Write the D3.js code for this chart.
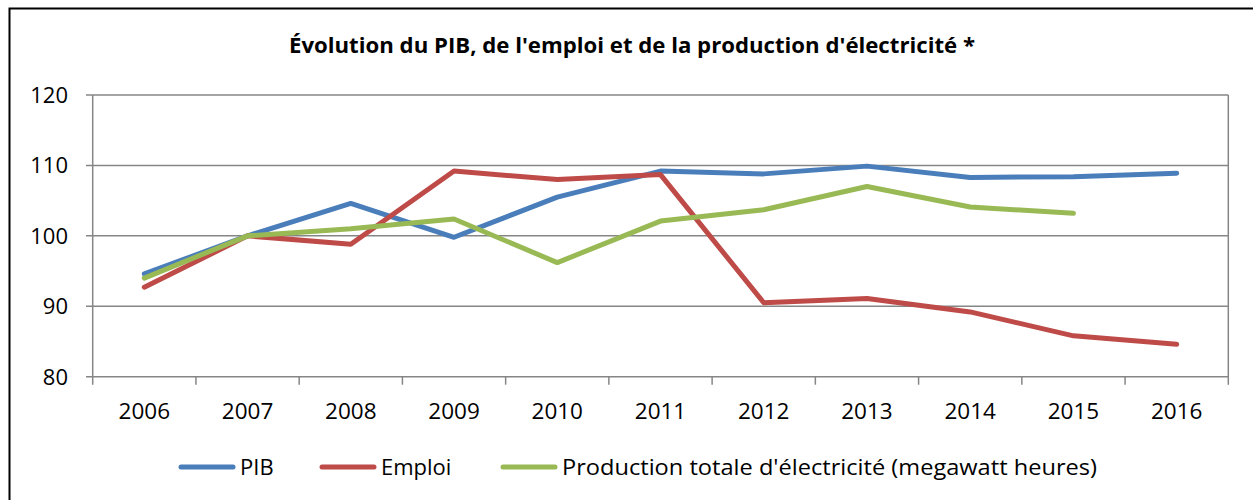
<!DOCTYPE html>
<html>
<head>
<meta charset="utf-8">
<script src="https://cdn.jsdelivr.net/npm/d3@7"></script>
<style>
  body { margin: 0; background: #fff; }
  text { font-family: "Open Sans", sans-serif; fill: #000; }
</style>
</head>
<body>
<script>
// données
const years = ["2006","2007","2008","2009","2010","2011","2012","2013","2014","2015","2016"];
const pib = [94.6, 100, 104.6, 99.8, 105.5, 109.2, 108.8, 109.9, 108.3, 108.4, 108.9];
const emploi = [92.7, 100, 98.8, 109.2, 108.0, 108.7, 90.5, 91.1, 89.2, 85.8, 84.6];
const electricite = [94.0, 100, 101.0, 102.4, 96.2, 102.1, 103.7, 107.0, 104.1, 103.2, null];
const yTicks = [80, 90, 100, 110, 120];
const seriesNames = ["PIB", "Emploi", "Production totale d'électricité (megawatt heures)"];
const colors = ["#4A7EBB", "#BE4B48", "#98B954"];

const WIDTH = 1253
const HEIGHT = 500
const gridColor = "#868686"

const svg = d3.select("body").append("svg")
  .attr("width", WIDTH)
  .attr("height", HEIGHT)

// cadre
svg.append("rect")
  .attr("x", 9.5).attr("y", 8.5)
  .attr("width", 1300).attr("height", 600)
  .attr("fill", "none").attr("stroke", "#000").attr("stroke-width", 2)

// titre
svg.append("text")
  .attr("x", 632).attr("y", 53)
  .attr("text-anchor", "middle")
  .attr("font-weight", "bold")
  .attr("font-size", 20.5)
  .attr("textLength", 686)
  .attr("lengthAdjust", "spacingAndGlyphs")
  .text("Évolution du PIB, de l'emploi et de la production d'électricité *")

const x = d3.scaleBand().domain(years).range([92.7, 1228.3])
const y = d3.scaleLinear().domain([80, 120]).range([376.7, 95])

// grille horizontale
svg.append("g")
  .selectAll("line")
  .data(yTicks)
  .enter()
  .append("line")
  .attr("x1", 86)
  .attr("x2", 1228.3)
  .attr("y1", d => y(d))
  .attr("y2", d => y(d))
  .attr("stroke", gridColor)
  .attr("stroke-width", 1.5)

// bord droit
svg.append("line")
  .attr("x1", 1228.3).attr("x2", 1228.3)
  .attr("y1", y(120)).attr("y2", y(80) + 8)
  .attr("stroke", gridColor).attr("stroke-width", 1.5)

// axe gauche
svg.append("line")
  .attr("x1", 92.7).attr("x2", 92.7)
  .attr("y1", y(120)).attr("y2", y(80) + 8)
  .attr("stroke", gridColor).attr("stroke-width", 1.5)

// graduations de l'axe x (entre les catégories)
svg.append("g")
  .selectAll("line")
  .data(years.slice(1))
  .enter()
  .append("line")
  .attr("x1", d => x(d))
  .attr("x2", d => x(d))
  .attr("y1", y(80))
  .attr("y2", y(80) + 8)
  .attr("stroke", gridColor)
  .attr("stroke-width", 1.5)

// étiquettes y
svg.append("g")
  .selectAll("text")
  .data(yTicks)
  .enter()
  .append("text")
  .attr("x", 68)
  .attr("y", d => y(d))
  .attr("dy", "0.36em")
  .attr("text-anchor", "end")
  .attr("font-size", 22)
  .text(d => d)

// étiquettes x
svg.append("g")
  .selectAll("text")
  .data(years)
  .enter()
  .append("text")
  .attr("x", d => x(d) + x.bandwidth() / 2)
  .attr("y", 419)
  .attr("text-anchor", "middle")
  .attr("font-size", 22.5)
  .text(d => d)

// courbes
const line = d3.line()
  .defined(d => d.v != null)
  .x(d => x(d.year) + x.bandwidth() / 2)
  .y(d => y(d.v))

const allSeries = [pib, emploi, electricite]
allSeries.forEach((vals, i) => {
  svg.append("path")
    .datum(vals.map((v, j) => ({ year: years[j], v: v })))
    .attr("d", line)
    .attr("fill", "none")
    .attr("stroke", colors[i])
    .attr("stroke-width", 5)
    .attr("stroke-linecap", "round")
    .attr("stroke-linejoin", "round")
})

// légende
const legendX = [181, 322, 503]
const legendW = [null, null, 535]
const legend = svg.append("g")
  .selectAll("g")
  .data(seriesNames)
  .enter()
  .append("g")
  .attr("transform", (d, i) => `translate(${legendX[i]},467)`)

legend.append("line")
  .attr("x1", 0).attr("x2", 52)
  .attr("stroke", (d, i) => colors[i])
  .attr("stroke-width", 5)
  .attr("stroke-linecap", "round")

legend.append("text")
  .attr("x", 59)
  .attr("dy", "0.36em")
  .attr("font-size", 22)
  .each(function (d, i) {
    if (legendW[i]) d3.select(this).attr("textLength", legendW[i]).attr("lengthAdjust", "spacingAndGlyphs")
  })
  .text(d => d)
</script>
</body>
</html>
